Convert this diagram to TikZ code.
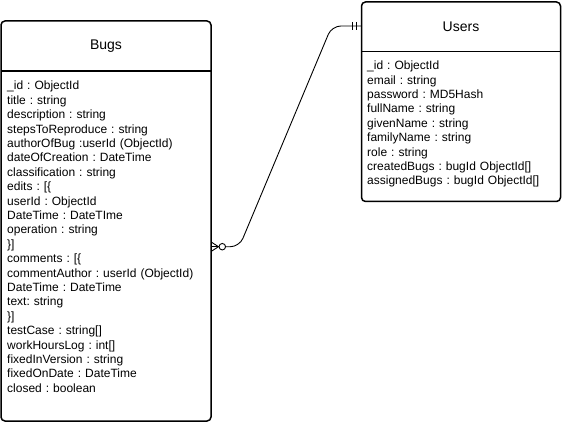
\documentclass[tikz,border=0pt]{standalone}
\usepackage{fontspec}
\setmainfont{Liberation Sans}
\frenchspacing
\begin{document}
\begin{tikzpicture}[x=1pt,y=-1pt,
  entity/.style={draw, line width=1.5pt, rounded corners=4pt, inner sep=0pt},
  divider/.style={line width=1.3pt},
  title/.style={font=\fontsize{14}{16.8}\selectfont, inner sep=0pt},
  body/.style={font=\fontsize{12}{14.4}\selectfont\frenchspacing, align=left, text width=190pt, inner sep=0pt, anchor=base west},
  rel/.style={line width=0.9pt}
]
\useasboundingbox (0,0) rectangle (562,422);

% Bugs entity
\node[entity, minimum width=210pt, minimum height=400pt] (bugs) at (106,221) {};
\draw[divider] (1,71) coordinate (bdl) -- (211,71) coordinate (bdr);
\node[title] (bugsTitle) at (106,46.5) {Bugs};
\node[body] (bugsBody) at (7,90) {\_id : ObjectId\\
title : string\\
description : string\\
stepsToReproduce : string\\
authorOfBug :userId (ObjectId)\\
dateOfCreation : DateTime\\
classification : string\\
edits : [\{\\
userId : ObjectId\\
DateTime : DateTIme\\
operation : string\\
\}]\\
comments : [\{\\
commentAuthor : userId (ObjectId)\\
DateTime : DateTime\\
text: string\\
\}]\\
testCase : string[]\\
workHoursLog : int[]\\
fixedInVersion : string\\
fixedOnDate : DateTime\\
closed : boolean};

% Users entity
\node[entity, minimum width=199pt, minimum height=199.5pt] (users) at (461,101.75) {};
\draw[divider] (361.5,51.7) coordinate (udl) -- (560.5,51.7) coordinate (udr);
\node[title] (usersTitle) at (461,26.5) {Users};
\node[body] (usersBody) at (367,69.8) {\_id : ObjectId\\
email : string\\
password : MD5Hash\\
fullName : string\\
givenName : string\\
familyName : string\\
role : string\\
createdBugs : bugId ObjectId[]\\
assignedBugs : bugId ObjectId[]};

% relation
\coordinate (bport) at (211.5,246.7);
\coordinate (uport) at (361,26);
\coordinate (ckpt) at (225.5,246.7);
\draw[rel, rounded corners=9pt] (ckpt) -- (239.4,246.7) -- (331.8,26) -- (uport);
% many (crow's foot + circle)
\coordinate (crowtip) at (218.5,246.7);
\draw[rel] (211.5,242.2) -- (crowtip) -- (211.5,251.2);
\draw[rel] (bport) -- (crowtip);
\node[draw, line width=0.9pt, circle, fill=white, minimum size=6.5pt, inner sep=0pt] (circ) at (222.3,246.7) {};
% one and only one
\draw[rel] (352.5,22) -- (352.5,30);
\draw[rel] (356.5,22) -- (356.5,30);
\end{tikzpicture}
\end{document}
